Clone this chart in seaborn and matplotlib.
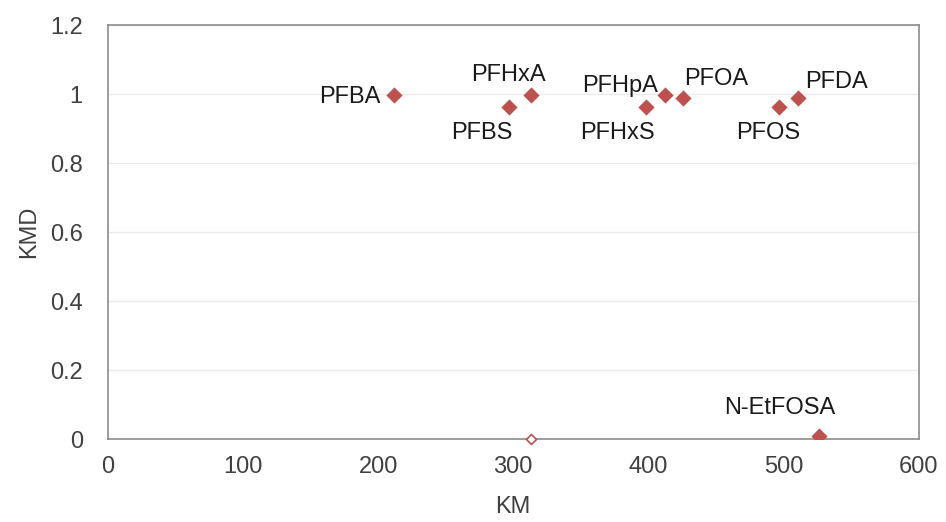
import pandas as pd
import matplotlib.pyplot as plt
import seaborn as sns

# Kendrick mass vs Kendrick mass defect
compounds = ['PFBA', 'PFBS', 'PFHxA', 'PFHxS', 'PFHpA', 'PFOA', 'PFOS', 'PFDA', 'N-EtFOSA']
km = [212, 297, 313, 398, 412, 426, 497, 511, 526]
kmd = [0.997, 0.962, 0.997, 0.962, 0.997, 0.989, 0.962, 0.989, 0.008]

# the lone open marker on the x axis
open_km = [313]
open_kmd = [0.0]

# label offsets in pixels (dx, dy) relative to each point
label_offsets = {
    'PFBA': (-44, -2), 'PFBS': (-27, -26), 'PFHxA': (-22, 20),
    'PFHxS': (-28, -26), 'PFHpA': (-44, 9), 'PFOA': (33, 19),
    'PFOS': (-11, -26), 'PFDA': (38, 16), 'N-EtFOSA': (-39, 28),
}

red = '#C0504D'
grey_text = '#404040'
frame = '#8C8C8C'

sns.set_style('white')
plt.rcParams['font.family'] = ['Liberation Sans', 'DejaVu Sans']

df = pd.DataFrame({'compound': compounds, 'KM': km, 'KMD': kmd})
df_open = pd.DataFrame({'KM': open_km, 'KMD': open_kmd})

fig = plt.figure(figsize=(9.46, 5.22), dpi=100)
ax = fig.add_axes([0.114, 0.159, 0.857, 0.793])

sns.scatterplot(data=df, x='KM', y='KMD', ax=ax, marker='D', s=68,
                color=red, edgecolor=red, linewidth=0, zorder=3)
sns.scatterplot(data=df_open, x='KM', y='KMD', ax=ax, marker='D', s=26,
                facecolor='white', edgecolor=red, linewidth=1.2, zorder=4,
                clip_on=False)

for name, x, y in zip(compounds, km, kmd):
    dx, dy = label_offsets[name]
    ax.annotate(name, (x, y), xytext=(dx, dy), textcoords='offset pixels',
                ha='center', va='center', fontsize=17, color='#1a1a1a')

ax.set_xlim(0, 600)
ax.set_ylim(0, 1.2)
ax.set_xticks(range(0, 601, 100))
ax.set_yticks([0, 0.2, 0.4, 0.6, 0.8, 1, 1.2])
ax.set_yticklabels(['0', '0.2', '0.4', '0.6', '0.8', '1', '1.2'])

ax.yaxis.grid(True, color='#EBEBEB', linewidth=1)
ax.xaxis.grid(False)
ax.set_axisbelow(True)

for side in ax.spines:
    ax.spines[side].set_visible(True)
    ax.spines[side].set_color(frame)
    ax.spines[side].set_linewidth(1.2)

ax.tick_params(axis='x', direction='out', length=7, width=1, color=frame,
               labelsize=17, labelcolor=grey_text, pad=5)
ax.tick_params(axis='y', direction='in', length=7, width=1, color=frame,
               labelsize=17, labelcolor=grey_text, pad=18)

ax.set_xlabel('KM', fontsize=17, color=grey_text, labelpad=13)
ax.set_ylabel('KMD', fontsize=17, color=grey_text, labelpad=7)

fig.savefig('out.png', dpi=100)
